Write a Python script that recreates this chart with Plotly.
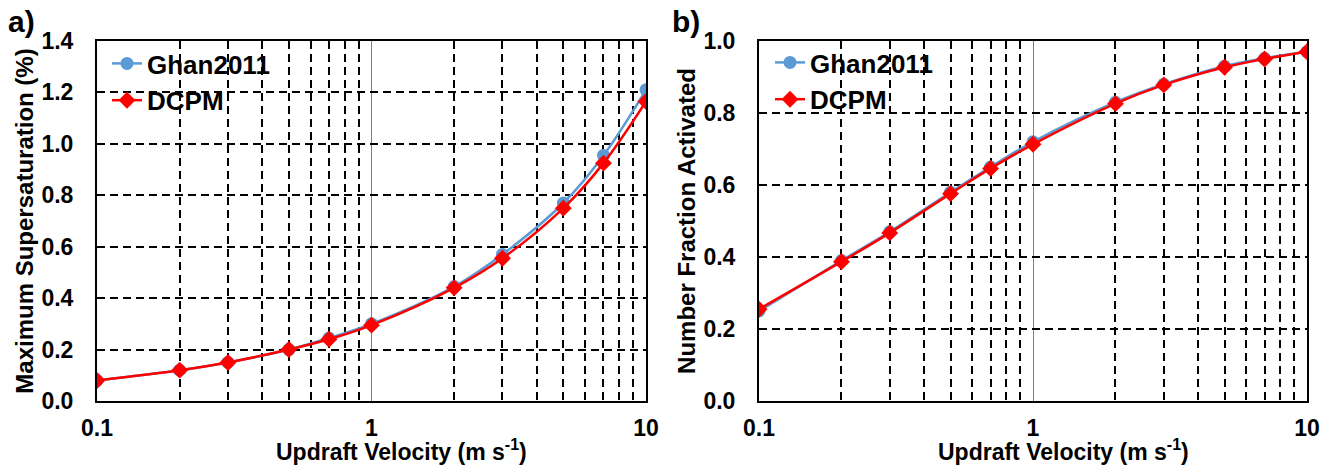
import plotly.graph_objects as go

velocity = [0.1, 0.2, 0.3, 0.5, 0.7, 1, 2, 3, 5, 7, 10]
smax_ghan = [0.08, 0.12, 0.15, 0.20, 0.245, 0.30, 0.445, 0.57, 0.77, 0.955, 1.21]
smax_dcpm = [0.08, 0.12, 0.15, 0.20, 0.24, 0.295, 0.44, 0.555, 0.75, 0.925, 1.165]
frac_ghan = [0.25, 0.39, 0.47, 0.58, 0.65, 0.72, 0.83, 0.88, 0.93, 0.952, 0.97]
frac_dcpm = [0.255, 0.387, 0.467, 0.576, 0.646, 0.713, 0.826, 0.878, 0.927, 0.95, 0.97]

BLUE = "#5B9BD5"
RED = "#FF0000"
FONT = "Arial, Liberation Sans, sans-serif"

fig = go.Figure()

def add_pair(xa, ya, ghan, dcpm, leg):
    fig.add_trace(go.Scatter(x=velocity, y=ghan, name="Ghan2011", mode="lines+markers",
                             line=dict(color=BLUE, width=2.5, shape="spline"),
                             marker=dict(symbol="circle", size=13, color=BLUE),
                             xaxis=xa, yaxis=ya, legend=leg))
    fig.add_trace(go.Scatter(x=velocity, y=dcpm, name="DCPM", mode="lines+markers",
                             line=dict(color=RED, width=2.5, shape="spline"),
                             marker=dict(symbol="diamond", size=13, color=RED),
                             xaxis=xa, yaxis=ya, legend=leg))

add_pair("x", "y", smax_ghan, smax_dcpm, "legend")
add_pair("x2", "y2", frac_ghan, frac_dcpm, "legend2")

dash = "8px,5px"
TICKF = dict(family=FONT, size=23, color="black", weight="bold")
TITLEF = dict(family=FONT, size=23, color="black", weight="bold")
YTITLEF = dict(family=FONT, size=24, color="black", weight="bold")
LEGF = dict(family=FONT, size=26, color="black", weight="bold")

xcommon = dict(type="log", range=[-1, 1], dtick=1, automargin=False,
               showgrid=True, gridcolor="#808080", gridwidth=1,
               minor=dict(dtick="D1", showgrid=True, gridcolor="black", gridwidth=1.5, griddash=dash),
               showline=True, linecolor="black", linewidth=2, mirror=True,
               ticks="", ticklabelstandoff=5,
               tickfont=TICKF,
               zeroline=False)
ycommon = dict(showgrid=True, gridcolor="black", gridwidth=1.5, griddash=dash, automargin=False,
               showline=True, linecolor="black", linewidth=2, mirror=True,
               ticks="", ticklabelstandoff=17,
               tickfont=TICKF,
               zeroline=False)

ytop = 1 - 41 / 474
ybot = 1 - 401 / 474

fig.update_layout(
    width=1334, height=474,
    margin=dict(l=0, r=0, t=0, b=0),
    paper_bgcolor="white", plot_bgcolor="white",
    showlegend=True,
    xaxis=dict(domain=[97 / 1334, 646 / 1334], anchor="y", **xcommon),
    yaxis=dict(domain=[ybot, ytop], anchor="x", range=[0, 1.4], dtick=0.2, tickformat=".1f",
               title=dict(text="Maximum Supersaturation (%)", font=YTITLEF, standoff=1),
               **ycommon),
    xaxis2=dict(domain=[759 / 1334, 1307 / 1334], anchor="y2", **xcommon),
    yaxis2=dict(domain=[ybot, ytop], anchor="x2", range=[0, 1.0], dtick=0.2, tickformat=".1f",
                title=dict(text="Number Fraction Activated", font=YTITLEF, standoff=1),
                **ycommon),
    legend=dict(x=107 / 1334, y=1 - 40 / 474, xanchor="left", yanchor="top",
                bgcolor="rgba(0,0,0,0)", tracegroupgap=0, itemwidth=30,
                font=LEGF),
    legend2=dict(x=770 / 1334, y=1 - 39 / 474, xanchor="left", yanchor="top",
                 bgcolor="rgba(0,0,0,0)", tracegroupgap=0, itemwidth=30,
                 font=LEGF),
    annotations=[
        dict(text="a)", x=6 / 1334, y=1 - 21 / 474, xref="paper", yref="paper",
             xanchor="left", yanchor="middle", showarrow=False,
             font=dict(family=FONT, size=30, color="black", weight="bold")),
        dict(text="b)", x=670 / 1334, y=1 - 21 / 474, xref="paper", yref="paper",
             xanchor="left", yanchor="middle", showarrow=False,
             font=dict(family=FONT, size=30, color="black", weight="bold")),
        dict(text="Updraft Velocity (m s<sup>-1</sup>)", x=401 / 1334, y=1 - 450 / 474,
             xref="paper", yref="paper", xanchor="center", yanchor="middle", showarrow=False,
             font=TITLEF),
        dict(text="Updraft Velocity (m s<sup>-1</sup>)", x=1063 / 1334, y=1 - 450 / 474,
             xref="paper", yref="paper", xanchor="center", yanchor="middle", showarrow=False,
             font=TITLEF),
    ],
)

fig.write_html("out.html")
